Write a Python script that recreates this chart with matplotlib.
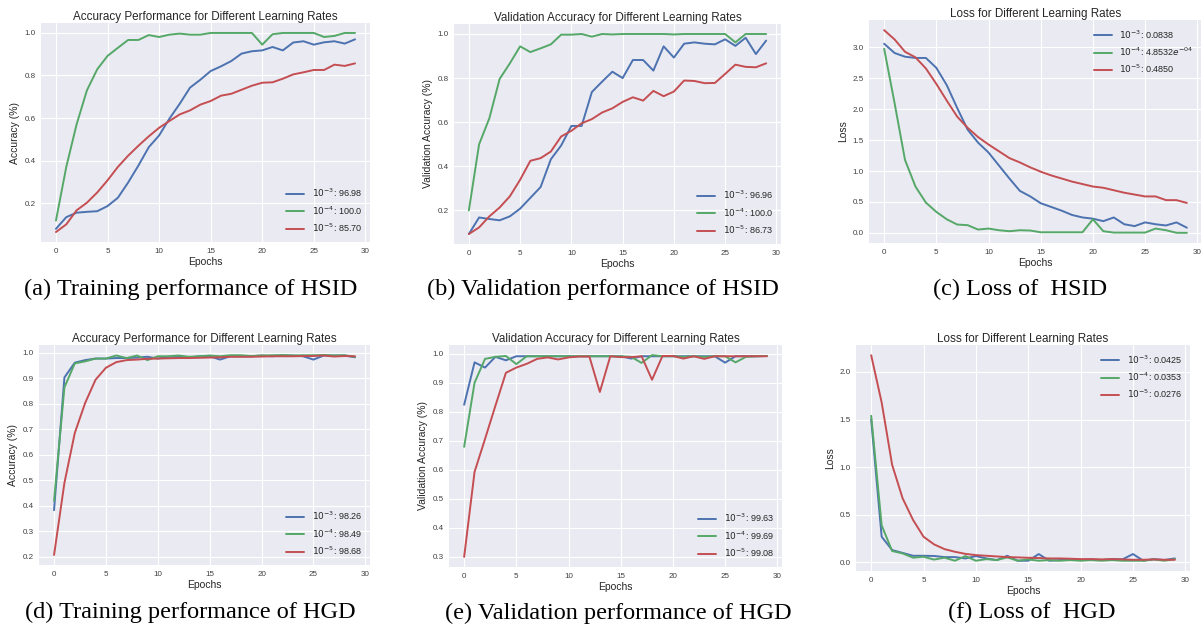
import matplotlib
matplotlib.use("Agg")
import matplotlib.pyplot as plt

plt.style.use("seaborn-v0_8-darkgrid")
plt.rcParams['font.family'] = ['Liberation Sans', 'DejaVu Sans']

epochs = list(range(30))

# (a) Training HSID
a_lr3 = [0.079, 0.134, 0.155, 0.159, 0.162, 0.186, 0.225, 0.297, 0.377, 0.463,
         0.518, 0.597, 0.667, 0.743, 0.780, 0.821, 0.843, 0.868, 0.903, 0.914,
         0.918, 0.934, 0.918, 0.955, 0.961, 0.945, 0.956, 0.961, 0.950, 0.970]
a_lr4 = [0.118, 0.370, 0.570, 0.730, 0.829, 0.892, 0.930, 0.967, 0.967, 0.990,
         0.981, 0.992, 0.997, 0.992, 0.992, 1.0, 1.0, 1.0, 1.0, 1.0,
         0.945, 0.994, 1.0, 1.0, 1.0, 1.0, 0.981, 0.986, 1.0, 1.0]
a_lr5 = [0.064, 0.100, 0.166, 0.202, 0.250, 0.307, 0.370, 0.423, 0.470, 0.514,
         0.554, 0.586, 0.617, 0.636, 0.663, 0.680, 0.705, 0.714, 0.733, 0.752,
         0.766, 0.768, 0.785, 0.805, 0.815, 0.826, 0.826, 0.851, 0.845, 0.857]

# (b) Validation HSID
b_lr3 = [0.093, 0.168, 0.161, 0.155, 0.173, 0.208, 0.257, 0.306, 0.432, 0.494,
         0.583, 0.583, 0.737, 0.784, 0.829, 0.800, 0.882, 0.882, 0.834, 0.944,
         0.893, 0.956, 0.962, 0.956, 0.953, 0.976, 0.946, 0.983, 0.909, 0.970]
b_lr4 = [0.200, 0.500, 0.618, 0.796, 0.867, 0.944, 0.918, 0.935, 0.953, 0.997,
         0.997, 1.0, 0.988, 1.0, 0.998, 1.0, 1.0, 1.0, 1.0, 1.0,
         0.998, 1.0, 1.0, 1.0, 1.0, 1.0, 0.962, 1.0, 1.0, 1.0]
b_lr5 = [0.093, 0.123, 0.173, 0.213, 0.264, 0.339, 0.425, 0.437, 0.467, 0.535,
         0.561, 0.595, 0.614, 0.644, 0.663, 0.692, 0.713, 0.698, 0.742, 0.718,
         0.739, 0.789, 0.787, 0.777, 0.778, 0.819, 0.861, 0.851, 0.849, 0.867]

# (c) Loss HSID
c_lr3 = [3.06, 2.91, 2.85, 2.83, 2.83, 2.67, 2.39, 2.02, 1.67, 1.46,
         1.30, 1.09, 0.88, 0.68, 0.59, 0.48, 0.42, 0.36, 0.29, 0.25,
         0.23, 0.19, 0.25, 0.14, 0.11, 0.17, 0.14, 0.12, 0.17, 0.084]
c_lr4 = [2.98, 2.10, 1.18, 0.75, 0.49, 0.34, 0.22, 0.135, 0.125, 0.054,
         0.070, 0.043, 0.027, 0.043, 0.038, 0.010, 0.010, 0.010, 0.010, 0.010,
         0.22, 0.027, 0.005, 0.005, 0.005, 0.005, 0.070, 0.043, 0.002, 0.0005]
c_lr5 = [3.28, 3.13, 2.93, 2.84, 2.66, 2.41, 2.14, 1.88, 1.70, 1.55,
         1.43, 1.32, 1.21, 1.14, 1.06, 0.99, 0.93, 0.88, 0.83, 0.79,
         0.75, 0.73, 0.69, 0.65, 0.62, 0.59, 0.59, 0.53, 0.53, 0.485]

# (d) Training HGD
d_lr3 = [0.383, 0.904, 0.962, 0.972, 0.978, 0.978, 0.980, 0.980, 0.982, 0.985,
         0.978, 0.985, 0.985, 0.982, 0.987, 0.987, 0.974, 0.987, 0.987, 0.987,
         0.990, 0.987, 0.990, 0.990, 0.987, 0.974, 0.990, 0.990, 0.990, 0.983]
d_lr4 = [0.420, 0.865, 0.959, 0.967, 0.978, 0.978, 0.990, 0.980, 0.990, 0.972,
         0.987, 0.987, 0.990, 0.985, 0.987, 0.990, 0.987, 0.991, 0.991, 0.988,
         0.990, 0.991, 0.992, 0.990, 0.991, 0.991, 0.992, 0.990, 0.991, 0.985]
d_lr5 = [0.207, 0.490, 0.686, 0.804, 0.895, 0.942, 0.964, 0.972, 0.974, 0.977,
         0.978, 0.979, 0.980, 0.980, 0.981, 0.982, 0.983, 0.985, 0.985, 0.985,
         0.986, 0.987, 0.987, 0.987, 0.988, 0.988, 0.990, 0.986, 0.988, 0.987]

# (e) Validation HGD
e_lr3 = [0.824, 0.970, 0.952, 0.989, 0.977, 0.991, 0.991, 0.991, 0.991, 0.991,
         0.991, 0.991, 0.991, 0.991, 0.991, 0.991, 0.983, 0.991, 0.991, 0.991,
         0.991, 0.991, 0.991, 0.991, 0.991, 0.969, 0.991, 0.991, 0.991, 0.992]
e_lr4 = [0.679, 0.900, 0.982, 0.989, 0.992, 0.964, 0.991, 0.991, 0.991, 0.991,
         0.991, 0.991, 0.991, 0.991, 0.991, 0.991, 0.989, 0.968, 0.995, 0.991,
         0.991, 0.989, 0.991, 0.989, 0.991, 0.991, 0.970, 0.989, 0.991, 0.992]
e_lr5 = [0.300, 0.593, 0.706, 0.821, 0.934, 0.952, 0.965, 0.982, 0.987, 0.980,
         0.987, 0.990, 0.990, 0.868, 0.991, 0.988, 0.988, 0.991, 0.910, 0.992,
         0.992, 0.983, 0.991, 0.982, 0.991, 0.991, 0.991, 0.991, 0.991, 0.991]

# (f) Loss HGD
f_lr3 = [1.50, 0.27, 0.13, 0.10, 0.07, 0.07, 0.068, 0.056, 0.056, 0.042,
         0.067, 0.042, 0.025, 0.070, 0.018, 0.018, 0.088, 0.018, 0.025, 0.032,
         0.025, 0.032, 0.025, 0.035, 0.032, 0.088, 0.018, 0.035, 0.025, 0.0425]
f_lr4 = [1.54, 0.39, 0.12, 0.095, 0.05, 0.06, 0.03, 0.05, 0.018, 0.067,
         0.018, 0.035, 0.025, 0.053, 0.018, 0.032, 0.018, 0.025, 0.018, 0.025,
         0.018, 0.025, 0.018, 0.025, 0.018, 0.018, 0.018, 0.032, 0.018, 0.0353]
f_lr5 = [2.175, 1.68, 1.025, 0.674, 0.446, 0.27, 0.19, 0.14, 0.112, 0.09,
         0.077, 0.070, 0.063, 0.056, 0.053, 0.049, 0.046, 0.042, 0.042, 0.039,
         0.035, 0.035, 0.032, 0.035, 0.032, 0.028, 0.028, 0.032, 0.028, 0.028]

lr_labels = [r'$10^{-3}$', r'$10^{-4}$', r'$10^{-5}$']
finals = {
    'a': ['96.98', '100.0', '85.70'],
    'b': ['96.96', '100.0', '86.73'],
    'c': ['0.0838', r'4.8532$e^{-04}$', '0.4850'],
    'd': ['98.26', '98.49', '98.68'],
    'e': ['99.63', '99.69', '99.08'],
    'f': ['0.0425', '0.0353', '0.0276'],
}
titles = {
    'a': 'Accuracy Performance for Different Learning Rates',
    'b': 'Validation Accuracy for Different Learning Rates',
    'c': 'Loss for Different Learning Rates',
    'd': 'Accuracy Performance for Different Learning Rates',
    'e': 'Validation Accuracy for Different Learning Rates',
    'f': 'Loss for Different Learning Rates',
}
ylabels = {'a': 'Accuracy (%)', 'b': 'Validation Accuracy (%)', 'c': 'Loss',
           'd': 'Accuracy (%)', 'e': 'Validation Accuracy (%)', 'f': 'Loss'}
captions = {
    'a': '(a) Training performance of HSID',
    'b': '(b) Validation performance of HSID',
    'c': '(c) Loss of  HSID',
    'd': '(d) Training performance of HGD',
    'e': '(e) Validation performance of HGD',
    'f': '(f) Loss of  HGD',
}
series = {
    'a': (a_lr3, a_lr4, a_lr5), 'b': (b_lr3, b_lr4, b_lr5), 'c': (c_lr3, c_lr4, c_lr5),
    'd': (d_lr3, d_lr4, d_lr5), 'e': (e_lr3, e_lr4, e_lr5), 'f': (f_lr3, f_lr4, f_lr5),
}
legend_loc = {'a': 'lower right', 'b': 'lower right', 'c': 'upper right',
              'd': 'lower right', 'e': 'lower right', 'f': 'upper right'}

W, H = 1201, 632
fig = plt.figure(figsize=(W / 100, H / 100), dpi=100)
fig.patch.set_facecolor('white')

# pixel boxes: left, top, right, bottom
boxes = {
    'a': (41, 23, 370, 242),
    'b': (454, 24, 781, 244),
    'c': (869, 20, 1202, 243),
    'd': (39, 345, 370, 565),
    'e': (449, 345, 782, 567),
    'f': (856, 345, 1190, 571),
}
cap_pos = {'a': (191, 289), 'b': (603, 289), 'c': (1020, 289),
           'd': (190, 612), 'e': (618, 613), 'f': (1032, 612)}
colors = ['#4C72B0', '#55A868', '#C44E52']

for k in 'abcdef':
    l, t, r, b = boxes[k]
    ax = fig.add_axes([l / W, 1 - b / H, (r - l) / W, (b - t) / H])
    for s, lab, fin, c in zip(series[k], lr_labels, finals[k], colors):
        ax.plot(epochs, s, color=c, lw=1.4, label=f'{lab}: {fin}')
    ax.set_title(titles[k], fontsize=8.4, color='0.15', pad=2.5)
    ax.set_xlabel('Epochs', fontsize=7.5, color='0.15', labelpad=2)
    ax.set_ylabel(ylabels[k], fontsize=7.5, color='0.15', labelpad=3)
    ax.tick_params(labelsize=5.8, colors='0.25', length=0, pad=4)
    ax.set_xticks([0, 5, 10, 15, 20, 25, 30])
    ax.legend(loc=legend_loc[k], fontsize=6.5, frameon=False, handlelength=2.0,
              labelspacing=0.55)
    fig.text(cap_pos[k][0] / W, 1 - cap_pos[k][1] / H, captions[k],
             family='Liberation Serif', fontsize=17.5, ha='center', va='center',
             color='black')

fig.savefig('out.png', dpi=100)
